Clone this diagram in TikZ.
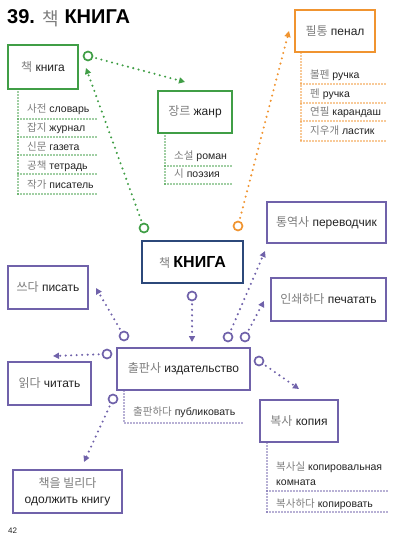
\documentclass[tikz,border=0pt]{standalone}
\usepackage{fontspec}
\setmainfont{Liberation Sans}
\newfontfamily\krfont{Noto Sans CJK KR}
\usepackage{tikz}
\usetikzlibrary{arrows.meta}

\definecolor{grn}{RGB}{64,158,70}
\definecolor{org}{RGB}{240,148,48}
\definecolor{prp}{RGB}{112,98,170}
\definecolor{navy}{RGB}{44,72,122}
\definecolor{ink}{RGB}{35,35,35}
\definecolor{kogray}{RGB}{125,125,125}
\newcommand{\hangul}[1]{{\krfont\color{kogray}#1}}

\begin{document}
\begin{tikzpicture}[x=1pt,y=-1pt,
  font=\fontsize{12}{14}\selectfont,
  box/.style={draw,line width=1.3pt,fill=white,inner sep=0pt,minimum height=42pt,text=ink},
  dot/.style={circle,draw,line width=1.7pt,minimum size=9pt,inner sep=0pt,fill=white},
  link/.style={line width=2.3pt,dash pattern=on 0pt off 5.5pt,line cap=round,
    shorten <=3pt,-{Triangle[length=6pt,width=6pt]}},
  rule/.style={line width=1.7pt,dash pattern=on 0pt off 3pt,line cap=round},
  item/.style={anchor=base west,inner sep=0pt,text=ink,font=\fontsize{10.5}{15}\selectfont}]
  \useasboundingbox (0,0) rectangle (405,540);

  \node[anchor=base west,inner sep=0pt,font=\bfseries\fontsize{20}{22}\selectfont] (title) at (7,24)
    {39. \raisebox{-1.5pt}{\mdseries\fontsize{18}{20}\selectfont\hangul{책}} КНИГА};
  \node[anchor=base west,inner sep=0pt,font=\fontsize{8}{9}\selectfont,text=ink] (page) at (8,533) {42};

  % boxes
  \node[box,draw=grn,minimum width=70pt,minimum height=44pt] (kniga) at (43,67) {\hangul{책} книга};
  \node[box,draw=grn,minimum width=74pt] (zhanr) at (195,112) {\hangul{장르} жанр};
  \node[box,draw=org,minimum width=80pt] (penal) at (335,31) {\hangul{필통} пенал};
  \node[box,draw=navy,minimum width=101pt,text=black] (center) at (192.5,262)
    {\hangul{책} {\bfseries\fontsize{16}{18}\selectfont КНИГА}};
  \node[box,draw=prp,minimum width=119pt,minimum height=41pt] (perev) at (326.5,222.5) {\hangul{통역사} переводчик};
  \node[box,draw=prp,minimum width=115pt,minimum height=43pt] (pechat) at (328.5,299.5) {\hangul{인쇄하다} печатать};
  \node[box,draw=prp,minimum width=80pt,minimum height=43pt] (pisat) at (48,287.5) {\hangul{쓰다} писать};
  \node[box,draw=prp,minimum width=83pt,minimum height=43pt] (chitat) at (49.5,383.5) {\hangul{읽다} читать};
  \node[box,draw=prp,minimum width=133pt] (izdat) at (183.5,369) {\hangul{출판사} издательство};
  \node[box,draw=prp,minimum width=78pt] (kopiya) at (299,421) {\hangul{복사} копия};
  \node[box,draw=prp,minimum width=109pt,minimum height=43pt,align=center] (odolzh) at (67.5,491.5)
    {\hangul{책을 빌리다}\\[2pt]одолжить книгу};

  % word lists
  \draw[rule,grn] (18,89) -- (18,194);
  \node[item] (k1) at (27,113) {\hangul{사전} словарь};
  \node[item] (k2) at (27,132) {\hangul{잡지} журнал};
  \node[item] (k3) at (27,150) {\hangul{신문} газета};
  \node[item] (k4) at (27,169) {\hangul{공책} тетрадь};
  \node[item] (k5) at (27,188) {\hangul{작가} писатель};
  \draw[rule,grn] (18,119) -- (98,119) (18,137) -- (98,137) (18,155) -- (98,155)
    (18,174) -- (98,174) (18,194) -- (98,194);

  \draw[rule,grn] (165,133) -- (165,184);
  \node[item] (z1) at (174,160) {\hangul{소설} роман};
  \node[item] (z2) at (174,178) {\hangul{시} поэзия};
  \draw[rule,grn] (165,166) -- (232,166) (165,184) -- (232,184);

  \draw[rule,org] (301,53) -- (301,141);
  \node[item] (p1) at (310,79) {\hangul{볼펜} ручка};
  \node[item] (p2) at (310,98) {\hangul{펜} ручка};
  \node[item] (p3) at (310,116) {\hangul{연필} карандаш};
  \node[item] (p4) at (310,135) {\hangul{지우개} ластик};
  \draw[rule,org] (301,84) -- (387,84) (301,103) -- (387,103) (301,121) -- (387,121)
    (301,141) -- (387,141);

  \draw[rule,prp] (124,391) -- (124,423) -- (242,423);
  \node[item] (i1) at (133,415) {\hangul{출판하다} публиковать};

  \draw[rule,prp] (267,443) -- (267,512);
  \node[item,align=left] (c1) at (276,485) {\hangul{복사실} копировальная\\комната};
  \node[item] (c2) at (276,507) {\hangul{복사하다} копировать};
  \draw[rule,prp] (267,491) -- (387,491) (267,512) -- (387,512);

  % circles
  \node[dot,draw=grn] (gA) at (88,56) {};
  \node[dot,draw=grn] (gB) at (144,228) {};
  \node[dot,draw=org] (oA) at (238,226) {};
  \node[dot,draw=prp] (pMain) at (192,296) {};
  \node[dot,draw=prp] (pWrite) at (124,336) {};
  \node[dot,draw=prp] (pRead) at (107,354) {};
  \node[dot,draw=prp] (pTrans) at (228,337) {};
  \node[dot,draw=prp] (pPrint) at (245,337) {};
  \node[dot,draw=prp] (pCopy) at (259,361) {};
  \node[dot,draw=prp] (pLend) at (113,399) {};

  \coordinate (tZhanr) at (185,82);
  \coordinate (tKniga) at (86,68);
  \coordinate (tPenal) at (289,31);
  \coordinate (tIzdat) at (192,342);
  \coordinate (tPisat) at (96,288);
  \coordinate (tChitat) at (53,356);
  \coordinate (tPerev) at (265,251);
  \coordinate (tPechat) at (264,301);
  \coordinate (tKopiya) at (299,389);
  \coordinate (tOdolzh) at (84,462);

  % connectors
  \draw[link,grn] (gA) -- (tZhanr);
  \draw[link,grn] (gB) -- (tKniga);
  \draw[link,org] (oA) -- (tPenal);
  \draw[link,prp] (pMain) -- (tIzdat);
  \draw[link,prp] (pWrite) -- (tPisat);
  \draw[link,prp] (pRead) -- (tChitat);
  \draw[link,prp] (pTrans) -- (tPerev);
  \draw[link,prp] (pPrint) -- (tPechat);
  \draw[link,prp] (pCopy) -- (tKopiya);
  \draw[link,prp] (pLend) -- (tOdolzh);
\end{tikzpicture}
\end{document}
